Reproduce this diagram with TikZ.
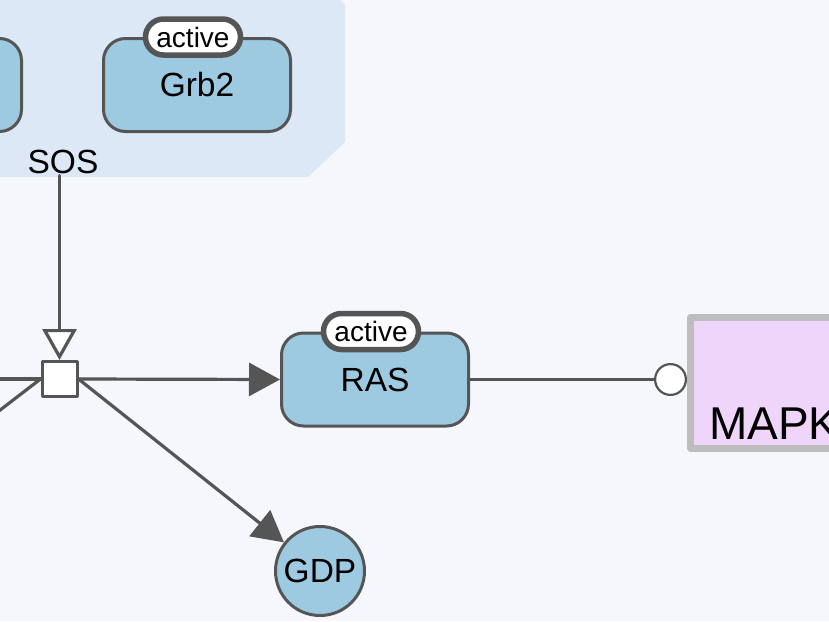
\documentclass[tikz,border=0pt]{standalone}
\usepackage{fontspec}
\setmainfont{Liberation Sans}
\usetikzlibrary{arrows.meta}
\definecolor{bgpage}{HTML}{F5F7FD}
\definecolor{cplxblue}{HTML}{DCE8F6}
\definecolor{nodeblue}{HTML}{9DCAE1}
\definecolor{edgegray}{HTML}{555555}
\definecolor{mapkfill}{HTML}{F0D5FB}
\definecolor{mapkedge}{HTML}{BDBDBD}
\begin{document}
\begin{tikzpicture}[x=1pt, y=-1pt, line cap=round, line join=round,
	glyph/.style={draw=edgegray, fill=nodeblue, line width=3pt, rounded corners=22pt, minimum width=187pt, minimum height=93pt, font=\fontsize{33.5}{38}\selectfont},
	tag/.style={draw=edgegray, fill=white, line width=5.5pt, rounded corners=18pt, minimum width=95pt, minimum height=36pt, inner sep=0pt, font=\fontsize{28}{30}\selectfont},
	procbox/.style={draw=edgegray, fill=white, line width=3pt, minimum size=35pt, inner sep=0pt},
	link/.style={draw=edgegray, line width=3.2pt},
	fwd/.style={link, -{Triangle[length=31pt, width=33pt, fill=edgegray]}},
	stim/.style={link, -{Triangle[open, length=31pt, width=34pt, fill=white]}},
	modul/.style={draw=edgegray, line width=2.5pt, -{Circle[length=33pt, width=33pt, fill=white, line width=2.2pt]}}]
	\useasboundingbox (0,0) rectangle (829,621);
	\clip (0,0) rectangle (829,621);
	
	% 1. nen va vung phuc hop SOS
	\fill[bgpage] (0,0) rectangle (829,621);
	\fill[cplxblue] (-10,0) -- (340,0) -- (345,5) -- (345,142) -- (308,177) -- (-10,177) -- cycle;
	
	% 2. cac nut protein
	\draw[draw=edgegray, fill=nodeblue, line width=3pt, rounded corners=22pt] (-200,38.5) rectangle (21.5,131.5);
	\node[glyph] (grb2) at (197,85) {Grb2};
	\node[tag, xshift=-4pt] (grb2tag) at (grb2.north) {active};
	\node[font=\fontsize{33.5}{38}\selectfont, anchor=base, inner sep=2pt] (sos) at (63,173) {SOS};
	
	\node[glyph] (ras) at (375,379.5) {RAS};
	\node[tag, xshift=-4pt] (rastag) at (ras.north) {active};
	
	\node[circle, draw=edgegray, fill=nodeblue, line width=3pt, minimum size=89pt, inner sep=0pt, font=\fontsize{33.5}{38}\selectfont] (gdp) at (320,571) {GDP};
	
	\node[draw=mapkedge, fill=mapkfill, line width=7pt, anchor=north west, minimum width=300pt, minimum height=131pt] (mapk) at (687,314) {};
	\node[anchor=base west, inner sep=0pt, font=\fontsize{46}{50}\selectfont] (mapklabel) at (709,439) {MAPK};
	
	% 3. nut qua trinh
	\node[procbox] (proc) at (59.5,379) {};
	\coordinate (inA) at (-5,379);
	\coordinate (inB) at (-5,414);
	
	% 4. cac canh
	\draw[link] (inA) -- (proc.west);
	\draw[link] (inB) -- (proc.west);
	\draw[stim] (sos.south -| proc.north) -- (proc.north);
	\draw[fwd] (proc.east) -- (ras.west);
	\draw[fwd] (proc.east) -- (gdp);
	\draw[modul] (ras.east) -- (ras.east -| mapk.west);
\end{tikzpicture}
\end{document}
